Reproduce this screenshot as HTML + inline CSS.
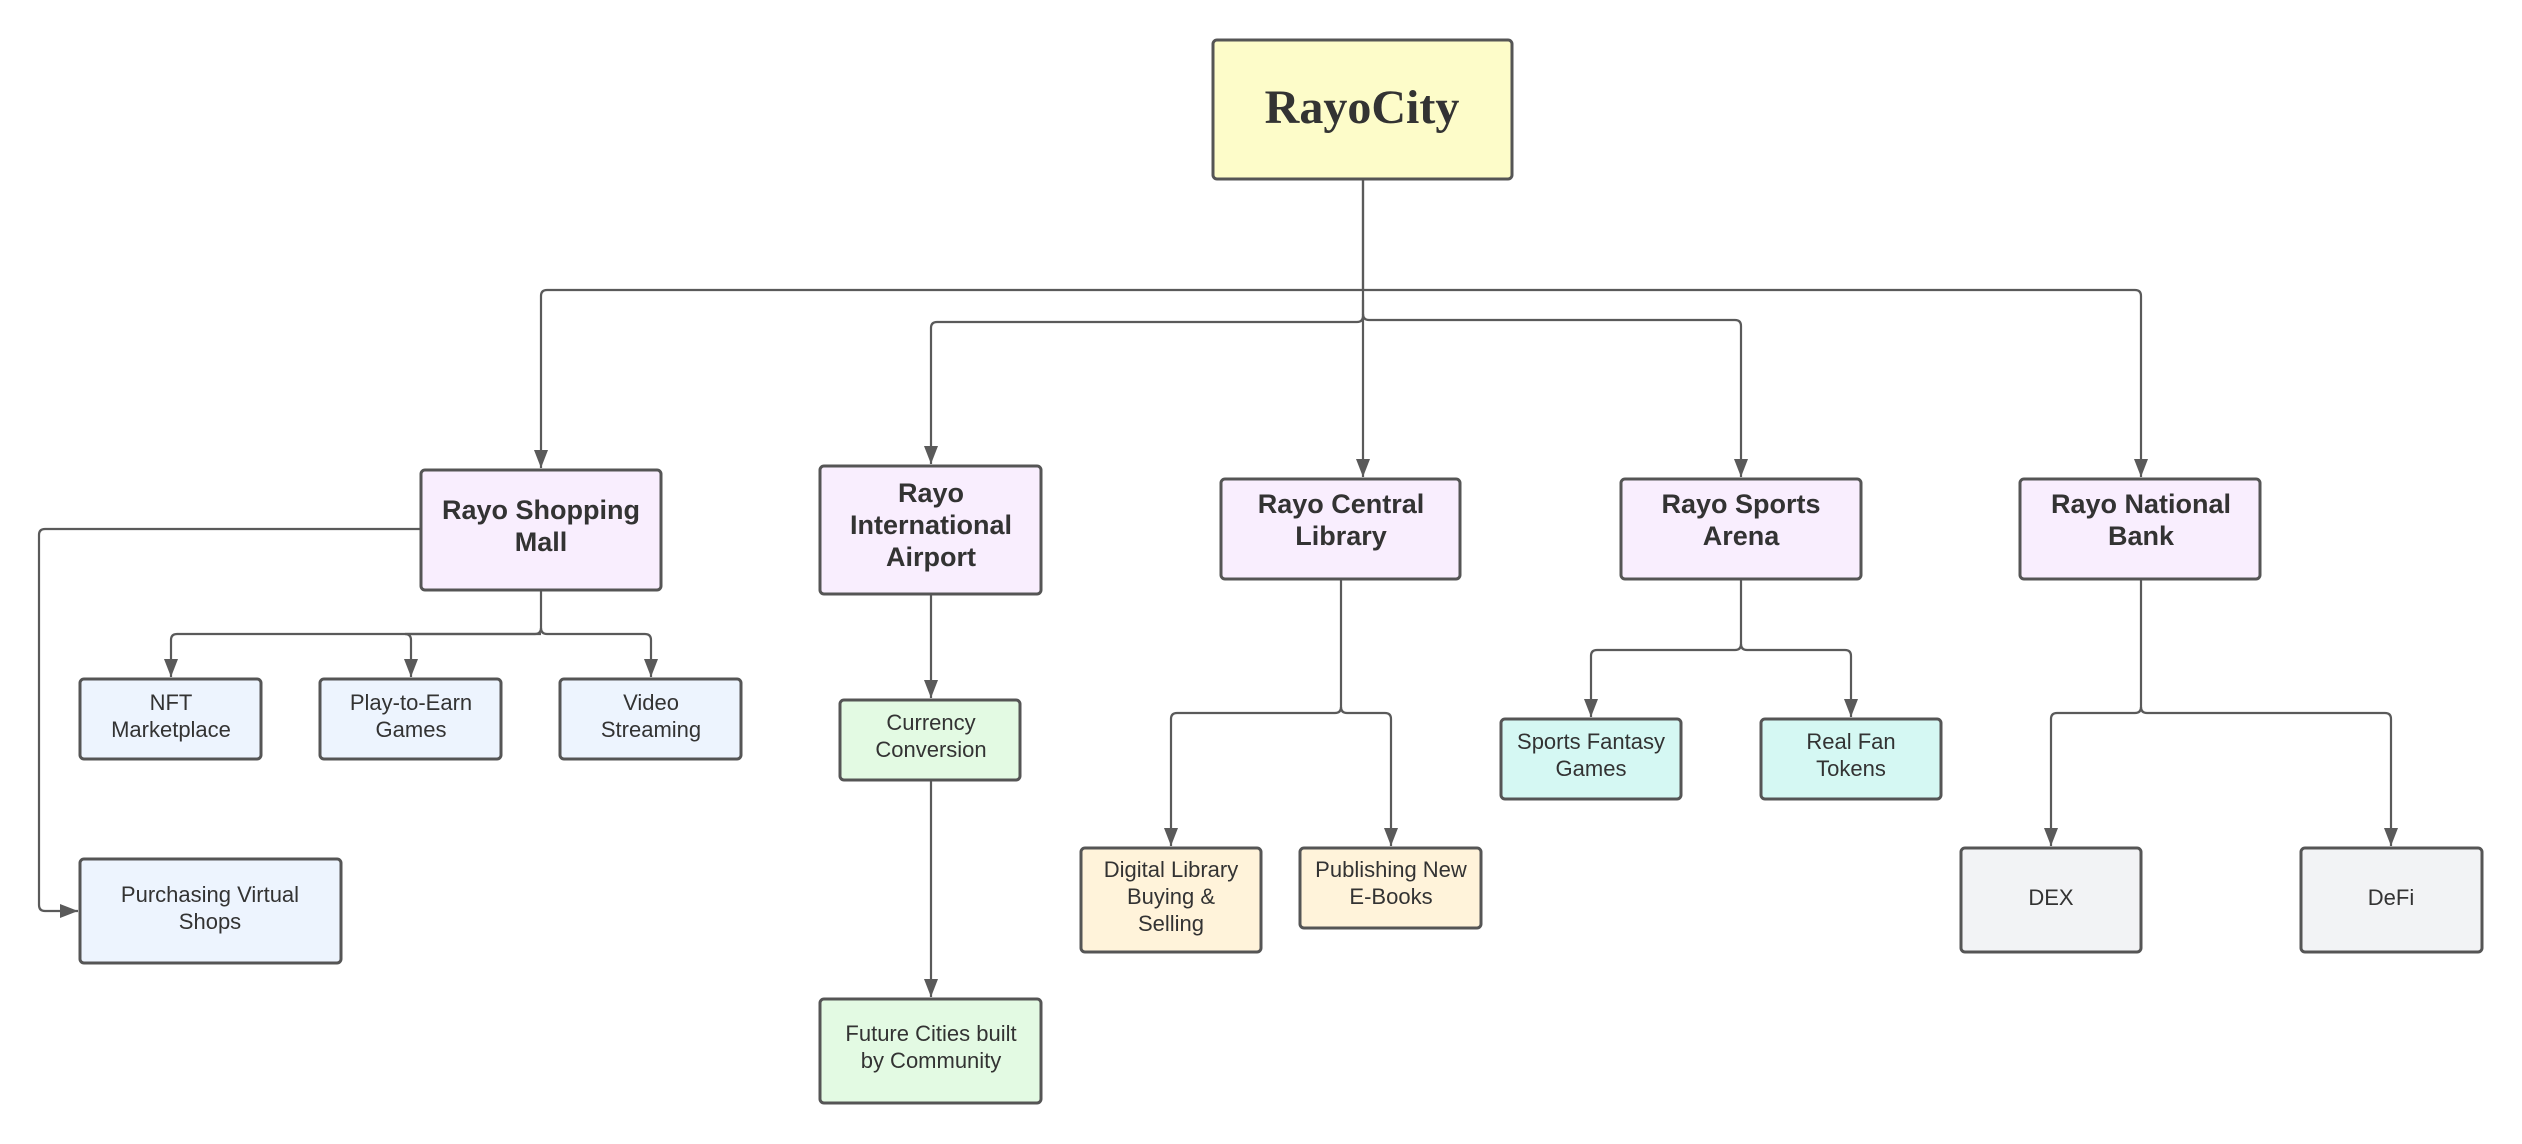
<!DOCTYPE html>
<html><head><meta charset="utf-8"><style>
html,body{margin:0;padding:0;background:#fff;}
svg{display:block}
.b{stroke:#555;stroke-width:3;}
.l{stroke:#5a5a5a;stroke-width:2.2;fill:none;}
.h{font-family:"Liberation Sans",sans-serif;font-weight:bold;font-size:27px;fill:#333;text-anchor:middle;}
.t{font-family:"Liberation Sans",sans-serif;font-size:22px;fill:#333;text-anchor:middle;}
</style></head><body>
<svg width="2522" height="1144" viewBox="0 0 2522 1144" xmlns="http://www.w3.org/2000/svg">
<defs>
<marker id="A" markerWidth="18" markerHeight="14" refX="18" refY="7" orient="auto" markerUnits="userSpaceOnUse" viewBox="0 0 18 14"><path d="M0,0 L18,7 L0,14 z" fill="#5a5a5a"/></marker></defs>
<g class="l">
<path d="M1363,179 V290"/>
<path d="M1363,290 H547 Q541,290 541,296 V468" marker-end="url(#A)"/>
<path d="M1363,290 H2135 Q2141,290 2141,296 V477" marker-end="url(#A)"/>
<path d="M1363,179 V316 Q1363,322 1357,322 H937 Q931,322 931,328 V464" marker-end="url(#A)"/>
<path d="M1363,300 V477" marker-end="url(#A)"/>
<path d="M1363,314 Q1363,320 1369,320 H1735 Q1741,320 1741,326 V477" marker-end="url(#A)"/>
<path d="M541,590 V628 Q541,634 535,634 H177 Q171,634 171,640 V677" marker-end="url(#A)"/>
<path d="M541,634 H405 Q411,634 411,640 V677" marker-end="url(#A)"/>
<path d="M541,628 Q541,634 547,634 H645 Q651,634 651,640 V677" marker-end="url(#A)"/>
<path d="M421,529 H45 Q39,529 39,535 V905 Q39,911 45,911 H78" marker-end="url(#A)"/>
<path d="M931,594 V698" marker-end="url(#A)"/>
<path d="M931,780 V997" marker-end="url(#A)"/>
<path d="M1341,579 V707 Q1341,713 1335,713 H1177 Q1171,713 1171,719 V846" marker-end="url(#A)"/>
<path d="M1341,707 Q1341,713 1347,713 H1385 Q1391,713 1391,719 V846" marker-end="url(#A)"/>
<path d="M1741,579 V644 Q1741,650 1735,650 H1597 Q1591,650 1591,656 V717" marker-end="url(#A)"/>
<path d="M1741,644 Q1741,650 1747,650 H1845 Q1851,650 1851,656 V717" marker-end="url(#A)"/>
<path d="M2141,579 V707 Q2141,713 2135,713 H2057 Q2051,713 2051,719 V846" marker-end="url(#A)"/>
<path d="M2141,707 Q2141,713 2147,713 H2385 Q2391,713 2391,719 V846" marker-end="url(#A)"/>
</g>
<rect class="b" x="1213" y="40" width="299" height="139" rx="4" fill="#fdfcc9"/>
<text x="1362" y="123" text-anchor="middle" font-family="'Liberation Serif',serif" font-weight="bold" font-size="48" fill="#333">RayoCity</text>
<rect class="b" x="421" y="470" width="240" height="120" rx="4" fill="#f9eefe"/>
<text class="h" x="541" y="519">Rayo Shopping</text><text class="h" x="541" y="551">Mall</text>
<rect class="b" x="820" y="466" width="221" height="128" rx="4" fill="#f9eefe"/>
<text class="h" x="931" y="502">Rayo</text><text class="h" x="931" y="534">International</text><text class="h" x="931" y="566">Airport</text>
<rect class="b" x="1221" y="479" width="239" height="100" rx="4" fill="#f9eefe"/>
<text class="h" x="1341" y="513">Rayo Central</text><text class="h" x="1341" y="545">Library</text>
<rect class="b" x="1621" y="479" width="240" height="100" rx="4" fill="#f9eefe"/>
<text class="h" x="1741" y="513">Rayo Sports</text><text class="h" x="1741" y="545">Arena</text>
<rect class="b" x="2020" y="479" width="240" height="100" rx="4" fill="#f9eefe"/>
<text class="h" x="2141" y="513">Rayo National</text><text class="h" x="2141" y="545">Bank</text>
<rect class="b" x="80" y="679" width="181" height="80" rx="4" fill="#edf4fe"/>
<text class="t" x="171" y="710">NFT</text><text class="t" x="171" y="737">Marketplace</text>
<rect class="b" x="320" y="679" width="181" height="80" rx="4" fill="#edf4fe"/>
<text class="t" x="411" y="710">Play-to-Earn</text><text class="t" x="411" y="737">Games</text>
<rect class="b" x="560" y="679" width="181" height="80" rx="4" fill="#edf4fe"/>
<text class="t" x="651" y="710">Video</text><text class="t" x="651" y="737">Streaming</text>
<rect class="b" x="80" y="859" width="261" height="104" rx="4" fill="#edf4fe"/>
<text class="t" x="210" y="902">Purchasing Virtual</text><text class="t" x="210" y="929">Shops</text>
<rect class="b" x="840" y="700" width="180" height="80" rx="4" fill="#e3fae3"/>
<text class="t" x="931" y="730">Currency</text><text class="t" x="931" y="757">Conversion</text>
<rect class="b" x="820" y="999" width="221" height="104" rx="4" fill="#e3fae3"/>
<text class="t" x="931" y="1041">Future Cities built</text><text class="t" x="931" y="1068">by Community</text>
<rect class="b" x="1081" y="848" width="180" height="104" rx="4" fill="#fff3da"/>
<text class="t" x="1171" y="877">Digital Library</text><text class="t" x="1171" y="904">Buying &amp;</text><text class="t" x="1171" y="931">Selling</text>
<rect class="b" x="1300" y="848" width="181" height="80" rx="4" fill="#fff3da"/>
<text class="t" x="1391" y="877">Publishing New</text><text class="t" x="1391" y="904">E-Books</text>
<rect class="b" x="1501" y="719" width="180" height="80" rx="4" fill="#d5f8f3"/>
<text class="t" x="1591" y="749">Sports Fantasy</text><text class="t" x="1591" y="776">Games</text>
<rect class="b" x="1761" y="719" width="180" height="80" rx="4" fill="#d5f8f3"/>
<text class="t" x="1851" y="749">Real Fan</text><text class="t" x="1851" y="776">Tokens</text>
<rect class="b" x="1961" y="848" width="180" height="104" rx="4" fill="#f2f3f5"/>
<text class="t" x="2051" y="905">DEX</text>
<rect class="b" x="2301" y="848" width="181" height="104" rx="4" fill="#f2f3f5"/>
<text class="t" x="2391" y="905">DeFi</text>
</svg>
</body></html>
